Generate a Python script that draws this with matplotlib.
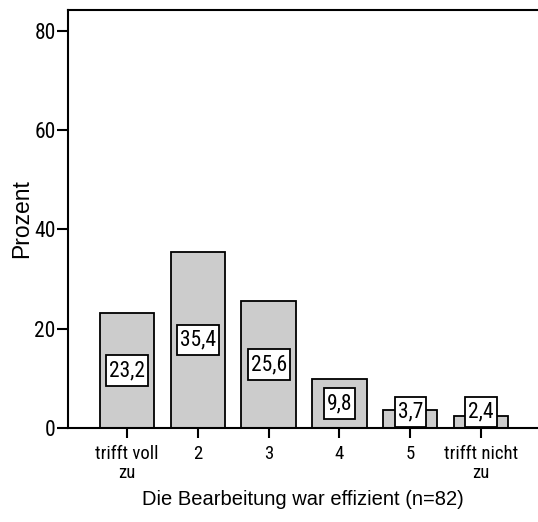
import matplotlib.pyplot as plt
import numpy as np
from matplotlib.path import Path

# answer categories and percentages
categories = ["trifft voll\nzu", "2", "3", "4", "5", "trifft nicht\nzu"]
percent = [23.2, 35.4, 25.6, 9.8, 3.7, 2.4]
value_labels = ["23,2", "35,4", "25,6", "9,8", "3,7", "2,4"]
yticks = [0, 20, 40, 60, 80]

narrow = ["Roboto Condensed", "Liberation Sans", "DejaVu Sans"]
sans = ["Liberation Sans", "DejaVu Sans"]


def label_box(x0, y0, width, height, mutation_size):
    # rectangle with more room above/below the text than at the sides
    px, py = 0.14 * mutation_size, 0.22 * mutation_size
    x0, y0 = x0 - px, y0 - py
    x1, y1 = x0 + width + 2 * px, y0 + height + 2 * py
    return Path([(x0, y0), (x1, y0), (x1, y1), (x0, y1), (x0, y0)], closed=True)


fig = plt.figure(figsize=(5.38, 5.22), dpi=100)
ax = fig.add_axes([0.127, 0.180, 0.873, 0.8008])

x = np.arange(len(categories))
ax.bar(x, percent, width=0.767, color="#cccccc", edgecolor="black", linewidth=1.3, zorder=2)

# value boxes in the middle of each bar, kept above the baseline
for xi, v, lab in zip(x, percent, value_labels):
    ax.text(xi, max(v / 2, 3.2), lab, ha="center", va="center", fontsize=15.5,
            family=narrow, zorder=3,
            bbox=dict(boxstyle=label_box, fc="white", ec="black", lw=1.3))

ax.set_xlim(-0.829, 5.805)
ax.set_ylim(0, 84.2)

ax.spines["right"].set_visible(False)
for side in ["top", "left", "bottom"]:
    ax.spines[side].set_linewidth(1.5)

ax.set_yticks(yticks)
ax.set_yticklabels([str(t) for t in yticks], family=narrow, fontsize=15.5)
ax.tick_params(axis="y", length=8, width=1.5, pad=1)

ax.set_xticks(x)
ax.set_xticklabels(categories, family=narrow, fontsize=13.5, linespacing=1.05)
ax.tick_params(axis="x", length=7.5, width=1.5, pad=5)

ax.set_ylabel("Prozent", family=sans, fontsize=16.5, labelpad=1)
ax.set_xlabel("Die Bearbeitung war effizient (n=82)", family=sans, fontsize=14.5, labelpad=6)

fig.savefig("out.png", dpi=100)
